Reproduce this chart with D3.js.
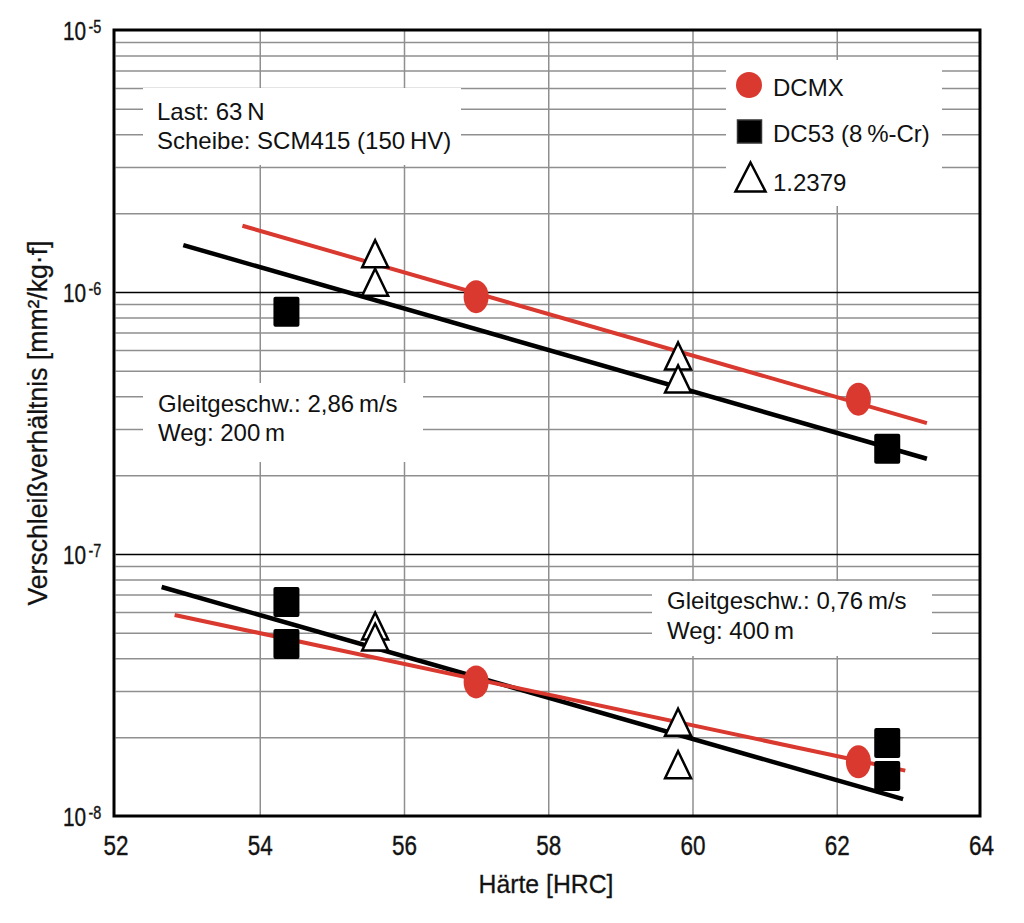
<!DOCTYPE html>
<html><head><meta charset="utf-8">
<script src="https://cdn.jsdelivr.net/npm/d3@7"></script>
<style>
html,body{margin:0;padding:0;background:#fff;}
text{font-family:"Liberation Sans",Arial,sans-serif;fill:#111;}
</style></head>
<body><svg id="c" width="1024" height="923"></svg>
<script>
// ---------- data ----------
const xTicks = [52, 54, 56, 58, 60, 62, 64];
const yDecades = [1e-8, 1e-7, 1e-6, 1e-5];
const yTickExp = ["-8", "-7", "-6", "-5"];

// 2,86 m/s, 200 m (upper group)
const dcmxHi   = [[57.0, 9.6e-7], [62.3, 3.9e-7]];
const dc53Hi   = [[54.37, 8.4e-7], [62.7, 2.52e-7]];
const steelHi  = [[55.6, 1.40e-6], [55.6, 1.09e-6], [59.8, 5.7e-7], [59.8, 4.66e-7]];
const redLineHi   = [[53.76, 1.79e-6], [63.25, 3.16e-7]];
const blackLineHi = [[52.94, 1.51e-6], [63.25, 2.31e-7]];

// 0,76 m/s, 400 m (lower group)
const dcmxLo   = [[57.0, 3.25e-8], [62.3, 1.61e-8]];
const dc53Lo   = [[54.37, 6.56e-8], [54.37, 4.53e-8], [62.7, 1.90e-8], [62.7, 1.42e-8]];
const steelLo  = [[55.6, 5.31e-8], [55.6, 4.82e-8], [59.8, 2.28e-8], [59.8, 1.57e-8]];
const redLineLo   = [[52.82, 5.85e-8], [62.95, 1.49e-8]];
const blackLineLo = [[52.64, 7.48e-8], [62.92, 1.16e-8]];

const legendLabels = ["DCMX", "DC53 (8\u2009%-Cr)", "1.2379"];
const note1 = ["Last: 63\u2009N", "Scheibe: SCM415 (150\u2009HV)"];
const note2 = ["Gleitgeschw.: 2,86\u2009m/s", "Weg: 200\u2009m"];
const note3 = ["Gleitgeschw.: 0,76\u2009m/s", "Weg: 400\u2009m"];
const xTitle = "Härte [HRC]";
const yTitle = "Verschleißverhältnis [mm²/kg·f]";

// ---------- layout ----------
const RED = "#d9392f";
const svg = d3.select("#c");
const x = d3.scaleLinear().domain([52, 64]).range([115.5, 981]);
const y = d3.scaleLog().domain([1e-8, 1e-5]).range([816, 30]);
const [L, R] = x.range(); const [B, T] = y.range();

const minor = [];
[1e-8, 1e-7, 1e-6].forEach(d => { for (let k = 2; k <= 9; k++) minor.push(k * d); });

// vertical grid
svg.append("g").attr("transform", `translate(0,${B})`)
  .call(d3.axisBottom(x).tickValues(xTicks.slice(1, -1)).tickSize(-(B - T)).tickFormat(""))
  .call(g => g.select(".domain").remove())
  .call(g => g.selectAll("line").attr("stroke", "#8f8f8f").attr("stroke-width", 1.5));
// horizontal minor grid
svg.append("g").attr("transform", `translate(${L},0)`)
  .call(d3.axisLeft(y).tickValues(minor).tickSize(-(R - L)).tickFormat(""))
  .call(g => g.select(".domain").remove())
  .call(g => g.selectAll("line").attr("stroke", "#8f8f8f").attr("stroke-width", 1.5));
// major horizontal
svg.append("g").attr("transform", `translate(${L},0)`)
  .call(d3.axisLeft(y).tickValues([1e-7, 1e-6]).tickSize(-(R - L)).tickFormat(""))
  .call(g => g.select(".domain").remove())
  .call(g => g.selectAll("line").attr("stroke", "#000").attr("stroke-width", 1.5));

// white boxes behind notes
const boxes = [[143, 88, 461, 165], [143, 383, 423, 462], [652, 581, 932, 656], [726, 60, 942, 206]];
svg.selectAll("rect.box").data(boxes).join("rect").attr("class", "box")
  .attr("x", d => d[0]).attr("y", d => d[1]).attr("width", d => d[2] - d[0]).attr("height", d => d[3] - d[1])
  .attr("fill", "#fff");

// frame
svg.append("rect").attr("x", L - 1.5).attr("y", T).attr("width", R - L + 0.5).attr("height", B - T)
  .attr("fill", "none").attr("stroke", "#000").attr("stroke-width", 3);

// x tick labels
svg.append("g").attr("transform", `translate(0,${B})`)
  .call(d3.axisBottom(x).tickValues(xTicks).tickSize(0).tickPadding(0).tickFormat(d3.format("d")))
  .call(g => g.select(".domain").remove())
  .call(g => g.selectAll("text").attr("y", 39).attr("dy", 0)
     .attr("font-size", 27).attr("textLength", 25).attr("lengthAdjust", "spacingAndGlyphs")
     .attr("stroke", "#222").attr("stroke-width", 0.4)
     .style("font-family", "'Liberation Sans',Arial,sans-serif").attr("fill", "#222"));

// y tick labels (10 with superscript exponent), horizontally condensed
const yl = svg.append("g");
yDecades.forEach((d, i) => {
  const g = yl.append("g").attr("transform", `translate(63,${y(d) + 10}) scale(0.8,1)`);
  const t = g.append("text").attr("x", 0).attr("y", 0).attr("fill", "#222")
    .attr("stroke", "#222").attr("stroke-width", 0.4);
  t.append("tspan").attr("font-size", 26).text("10");
  t.append("tspan").attr("dx", 3).attr("dy", -7).attr("font-size", 18).text(yTickExp[i]);
});

// axis titles
svg.append("text").attr("x", 546).attr("y", 893).attr("text-anchor", "middle")
  .attr("font-size", 26).attr("textLength", 135).attr("lengthAdjust", "spacingAndGlyphs").attr("fill", "#222")
  .attr("stroke", "#222").attr("stroke-width", 0.3).text(xTitle);
svg.append("text").attr("transform", `translate(47,${(T + B) / 2}) rotate(-90)`).attr("text-anchor", "middle")
  .attr("font-size", 27).attr("textLength", 365).attr("lengthAdjust", "spacingAndGlyphs").attr("fill", "#222")
  .attr("stroke", "#222").attr("stroke-width", 0.3).text(yTitle);

// notes
function note(lines, x0, y0, dy) {
  lines.forEach((t, i) => svg.append("text").attr("x", x0).attr("y", y0 + i * dy).attr("font-size", 24).text(t));
}
note(note1, 157, 120, 29);
note(note2, 158, 412, 29);
note(note3, 667, 609, 30);

// fit lines
const line = d3.line().x(d => x(d[0])).y(d => y(d[1]));
[[redLineHi, RED, 4], [blackLineHi, "#000", 4.5], [blackLineLo, "#000", 4.5], [redLineLo, RED, 4]].forEach(([d, c, w]) => {
  svg.append("path").datum(d).attr("d", line).attr("fill", "none").attr("stroke", c).attr("stroke-width", w);
});

// markers
const tri = (w, h) => `M0,${-h / 2}L${w / 2},${h / 2}L${-w / 2},${h / 2}Z`;
const mk = svg.append("g");
mk.selectAll("path.tri").data(steelHi.concat(steelLo)).join("path").attr("class", "tri")
  .attr("transform", d => `translate(${x(d[0])},${y(d[1])})`).attr("d", tri(26, 27))
  .attr("fill", "#fff").attr("stroke", "#000").attr("stroke-width", 2.5).attr("stroke-linejoin", "miter");
mk.selectAll("rect.sq").data(dc53Hi.concat(dc53Lo)).join("rect").attr("class", "sq")
  .attr("x", d => x(d[0]) - 13).attr("y", d => y(d[1]) - 15).attr("width", 26).attr("height", 30).attr("rx", 2)
  .attr("fill", "#000");
mk.selectAll("ellipse").data(dcmxHi.concat(dcmxLo)).join("ellipse")
  .attr("cx", d => x(d[0])).attr("cy", d => y(d[1])).attr("rx", 12.5).attr("ry", 16.5).attr("fill", RED);

// legend
const lg = svg.append("g");
lg.append("circle").attr("cx", 749).attr("cy", 85).attr("r", 13).attr("fill", RED);
lg.append("rect").attr("x", 737.5).attr("y", 120).attr("width", 24).attr("height", 23).attr("fill", "#000")
  .attr("stroke", "#333").attr("stroke-width", 1.5);
lg.append("path").attr("transform", "translate(750.5,177)").attr("d", tri(30, 29))
  .attr("fill", "#fff").attr("stroke", "#000").attr("stroke-width", 2.5);
[95.5, 142, 190.5].forEach((yy, i) => lg.append("text").attr("x", 773).attr("y", yy).attr("font-size", 24).text(legendLabels[i]));
</script></body></html>
